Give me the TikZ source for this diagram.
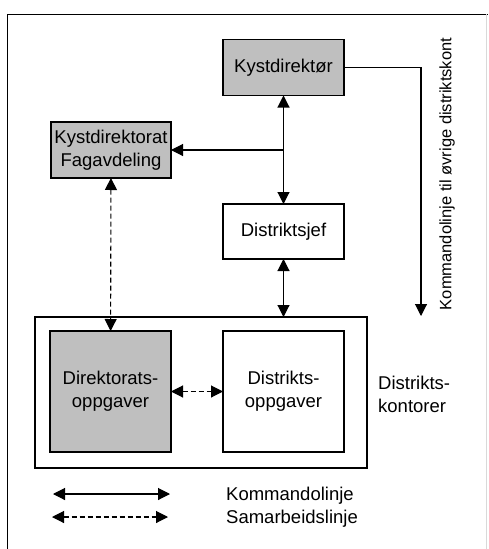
\documentclass[tikz,border=0pt]{standalone}
\usepackage{fontspec}
\setmainfont{Liberation Sans}
\usetikzlibrary{arrows.meta}
\begin{document}
\begin{tikzpicture}[x=1pt,y=-1pt,
  boks/.style={draw,line width=1.6pt,minimum width=121pt,minimum height=56pt,align=center,inner sep=1pt,outer sep=0pt,font=\fontsize{18.5}{23}\selectfont},
  graa/.style={fill=black!25},
  pil/.style={line width=1.1pt,-{Triangle[length=12pt,width=12pt]}},
  dpil/.style={line width=1.1pt,{Triangle[length=12pt,width=12pt]}-{Triangle[length=12pt,width=12pt]}},
  stiplet/.style={dash pattern=on 5pt off 3pt},
  tekst/.style={font=\fontsize{18.5}{23}\selectfont,align=left,inner sep=0pt}]
\useasboundingbox (0,0) rectangle (488,549);
\draw[line width=1pt] (7,549) -- (7,14) -- (488,14);
\draw[black!15] (486,14) -- (486,549);

\node (kyst) at (283.5,67.5) [boks,graa] {Kystdirektør};
\node (fag) at (111,150) [boks,graa,minimum width=120pt] {Kystdirektorat\\Fagavdeling};
\node (sjef) at (283.5,231.5) [boks,minimum height=55pt] {Distriktsjef};
\node (kontor) at (201,392.5) [draw,line width=2.5pt,outer sep=0pt,minimum width=332pt,minimum height=151pt] {};
\node (dir) at (110.5,391.5) [boks,graa,minimum height=121pt] {Direktorats-\\oppgaver};
\node (dist) at (283.5,391.5) [boks,minimum height=121pt] {Distrikts-\\oppgaver};
\node (kontorer) at (378,394) [tekst,anchor=west] {Distrikts-\\kontorer};

\draw[dpil] (kyst) -- (sjef);
\draw[pil] (kyst.south |- fag.east) -- (fag.east);
\draw[dpil] (sjef) -- (sjef |- kontor.north);
\draw[dpil,stiplet] (fag) -- (dir);
\draw[dpil,stiplet] (dir) -- (dist);

% linje til de andre kontorene
\coordinate (ende) at (421,316);
\draw[pil] (kyst.east) -| (ende);
\node (sidetekst) at (447,174) [rotate=90,font=\fontsize{16.5}{20}\selectfont] {Kommandolinje til øvrige distriktskont};

% forklaring
\coordinate (k1) at (53,494);
\coordinate (k2) at (170,494);
\coordinate (s1) at (52,517);
\coordinate (s2) at (168,517);
\draw[dpil] (k1) -- (k2);
\draw[dpil,stiplet] (s1) -- (s2);
\node (kommando) at (226,496) [tekst,anchor=west] {Kommandolinje};
\node (samarbeid) at (226,519) [tekst,anchor=west] {Samarbeidslinje};
\end{tikzpicture}
\end{document}
